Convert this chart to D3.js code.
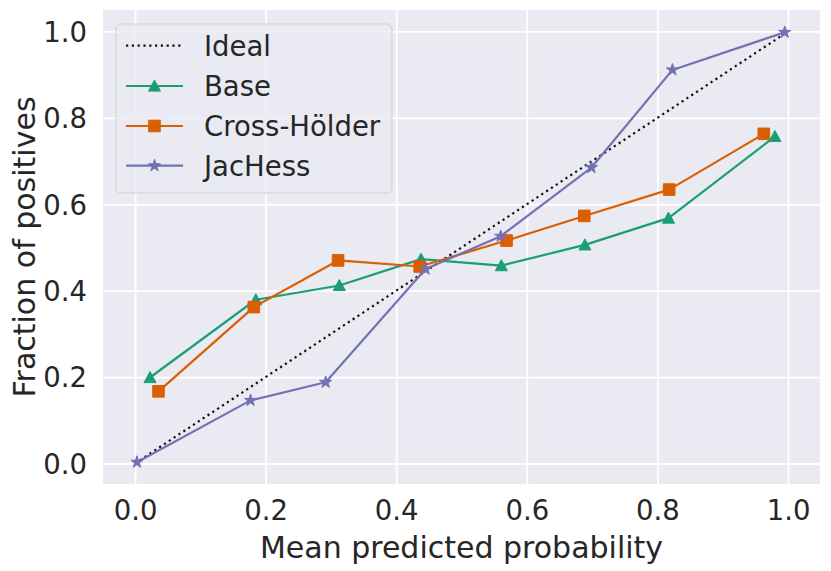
<!DOCTYPE html>
<html><head><meta charset="utf-8">
<script src="https://cdn.jsdelivr.net/npm/d3@7"></script>
<style>body{margin:0;background:#fff}svg{display:block}text{font-family:"DejaVu Sans";fill:#262626}</style>
</head><body><svg id="c" width="831" height="571"></svg>
<script>
const xTicks = [0.0, 0.2, 0.4, 0.6, 0.8, 1.0];
const yTicks = [0.0, 0.2, 0.4, 0.6, 0.8, 1.0];
const idealX = [0, 1];
const idealY = [0, 1];
const baseX = [0.023, 0.185, 0.313, 0.438, 0.561, 0.689, 0.817, 0.980];
const baseY = [0.199, 0.379, 0.412, 0.473, 0.458, 0.506, 0.568, 0.757];
const crossX = [0.036, 0.182, 0.311, 0.436, 0.569, 0.688, 0.818, 0.963];
const crossY = [0.167, 0.362, 0.470, 0.456, 0.516, 0.573, 0.634, 0.763];
const jacX = [0.003, 0.177, 0.292, 0.445, 0.560, 0.699, 0.823, 0.995];
const jacY = [0.003, 0.146, 0.188, 0.450, 0.526, 0.685, 0.911, 0.998];
const seriesNames = ["Ideal", "Base", "Cross-Hölder", "JacHess"];

const svg = d3.select("#c");
const L = 103, R = 820, T = 10, B = 484;
const x = d3.scaleLinear().domain([-0.049, 1.049]).range([L, R]);
const y = d3.scaleLinear().domain([-0.0475, 1.0497]).range([B, T]);

svg.append("rect").attr("x", L).attr("y", T).attr("width", R - L).attr("height", B - T).attr("fill", "#eaeaf2");

const gx = svg.append("g").attr("transform", `translate(0,${B})`)
  .call(d3.axisBottom(x).tickValues(xTicks).tickFormat(d3.format(".1f")).tickSize(-(B - T)).tickPadding(10));
const gy = svg.append("g").attr("transform", `translate(${L},0)`)
  .call(d3.axisLeft(y).tickValues(yTicks).tickFormat(d3.format(".1f")).tickSize(-(R - L)).tickPadding(16));
[gx, gy].forEach(g => {
  g.select(".domain").remove();
  g.selectAll(".tick line").attr("stroke", "#fff").attr("stroke-width", 1.8);
  g.selectAll(".tick text").attr("font-size", 27.5).attr("font-family", "DejaVu Sans").attr("fill", "#262626");
});
gx.selectAll(".tick text").attr("dy", null).attr("y", 36);
gy.selectAll(".tick text").attr("dy", "0.36em");

svg.append("text").attr("x", (L + R) / 2).attr("y", 558).attr("text-anchor", "middle").attr("font-size", 30).text("Mean predicted probability");
svg.append("text").attr("transform", `translate(35,${(T + B) / 2}) rotate(-90)`).attr("text-anchor", "middle").attr("font-size", 30).text("Fraction of positives");

const colors = { Base: "#1b9e77", "Cross-Hölder": "#d95f02", JacHess: "#7570b3" };
const line = d3.line().x(d => x(d[0])).y(d => y(d[1]));
const zip = (a, b) => a.map((v, i) => [v, b[i]]);

function marker(g, type, cx, cy, color) {
  let p;
  if (type === "tri") {
    const s = 6;
    p = `M${cx},${cy - s}L${cx + s},${cy + s * 0.85}L${cx - s},${cy + s * 0.85}Z`;
  } else if (type === "sq") {
    const s = 5.8;
    p = `M${cx - s},${cy - s}h${2 * s}v${2 * s}h${-2 * s}Z`;
  } else {
    p = d3.symbol().type(d3.symbolStar).size(46)();
    g.append("path").attr("d", p).attr("transform", `translate(${cx},${cy})`).attr("fill", color).attr("stroke", color).attr("stroke-width", 1);
    return;
  }
  g.append("path").attr("d", p).attr("fill", color).attr("stroke", color).attr("stroke-width", 1);
}

const plot = svg.append("g");
plot.append("path").attr("d", line(zip(idealX, idealY))).attr("fill", "none").attr("stroke", "#111").attr("stroke-width", 2.2).attr("stroke-dasharray", "2.2 3.6");

const series = [
  { name: "Base", xs: baseX, ys: baseY, m: "tri" },
  { name: "Cross-Hölder", xs: crossX, ys: crossY, m: "sq" },
  { name: "JacHess", xs: jacX, ys: jacY, m: "star" }
];
series.forEach(s => {
  const c = colors[s.name];
  plot.append("path").attr("d", line(zip(s.xs, s.ys))).attr("fill", "none").attr("stroke", c).attr("stroke-width", 2.2).attr("stroke-linejoin", "round");
  zip(s.xs, s.ys).forEach(d => marker(plot, s.m, x(d[0]), y(d[1]), c));
});

// legend
const lg = svg.append("g");
lg.append("rect").attr("x", 116).attr("y", 24).attr("width", 276).attr("height", 169).attr("rx", 5)
  .attr("fill", "#eaeaf2").attr("fill-opacity", 0.8).attr("stroke", "#cfcfd4").attr("stroke-width", 1);
const rowY = [45.7, 86, 126, 165.7];
seriesNames.forEach((n, i) => {
  const yy = rowY[i];
  if (n === "Ideal") {
    lg.append("line").attr("x1", 126).attr("x2", 183).attr("y1", yy).attr("y2", yy).attr("stroke", "#111").attr("stroke-width", 2.2).attr("stroke-dasharray", "2.2 3.6");
  } else {
    const c = colors[n];
    lg.append("line").attr("x1", 126).attr("x2", 183).attr("y1", yy).attr("y2", yy).attr("stroke", c).attr("stroke-width", 2.2);
    marker(lg, series[i - 1].m, 154.5, yy, c);
  }
  lg.append("text").attr("x", 204).attr("y", yy).attr("dy", "0.36em").attr("font-size", 27.5).text(n);
});
</script></body></html>
